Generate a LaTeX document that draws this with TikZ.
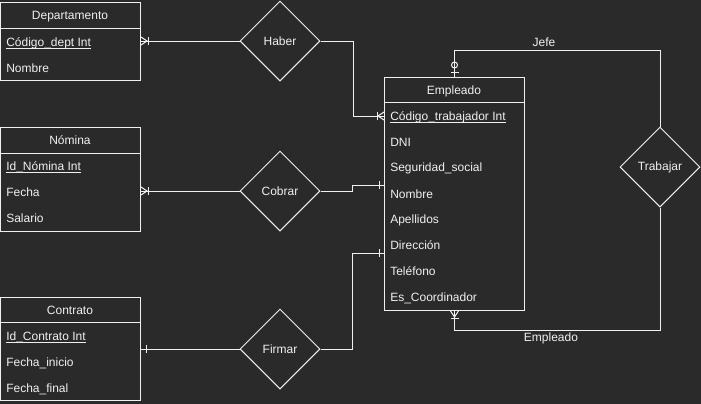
\documentclass[tikz,border=0pt]{standalone}
\usepackage{fontspec}
\setmainfont{Liberation Sans}
\usetikzlibrary{shapes.geometric}
\definecolor{bg}{HTML}{2A2A2A}
\definecolor{fg}{HTML}{F0F0F0}
\newcommand{\myul}[1]{\leavevmode\setbox0\hbox{#1}\rlap{\rule[-1.6pt]{\wd0}{0.55pt}}\box0}
\begin{document}
\begin{tikzpicture}[x=0.75pt,y=-0.75pt,
  every node/.style={font=\fontsize{9pt}{11pt}\selectfont, text=fg},
  line/.style={draw=fg, line width=0.75pt},
  ent/.style={line, rectangle, inner sep=0pt, anchor=north west, minimum width=105pt},
  rel/.style={line, diamond, aspect=1, inner sep=0pt, minimum width=60pt, minimum height=60pt},
  attr/.style={anchor=west, inner sep=0pt, text height=7.2pt, text depth=1.0pt},
  hdr/.style={anchor=center, inner sep=0pt, text height=7.2pt, text depth=1.0pt},
  lbl/.style={inner sep=0pt, text height=7.2pt, text depth=1.0pt},
  crowmany/.pic={\draw[line] (0,-4) -- (6,0) -- (0,4); \draw[line] (7,-4) -- (7,4);},
  crowone/.pic={\draw[line] (5,-4) -- (5,4);},
  crowzeroone/.pic={\draw[line] (5,-4) -- (5,4); \draw[line] (12,0) circle[radius=2.25pt];},
]
\fill[bg] (0,0) rectangle (701,404);
\useasboundingbox (0,0) rectangle (701,404);

% Departamento
\node[ent, minimum height=58.5pt] (dep) at (0,2) {};
\draw[line] (0,28) -- (140,28);
\node[hdr] (depT) at (70,15) {Departamento};
\node[attr] (depcod) at (6,42) {\myul{Código\_dept Int}};
\node[attr] (depnom) at (6,68) {Nombre};

% Nomina
\node[ent, minimum height=78pt] (nom) at (0,127) {};
\draw[line] (0,153) -- (140,153);
\node[hdr] (nomT) at (70,140) {Nómina};
\node[attr] (nomid) at (6,166) {\myul{Id\_Nómina Int}};
\node[attr] (nomfec) at (6,192) {Fecha};
\node[attr] (nomsal) at (6,218) {Salario};

% Contrato
\node[ent, minimum height=77.25pt] (con) at (0,297) {};
\draw[line] (0,322) -- (140,322);
\node[hdr] (conT) at (70,310) {Contrato};
\node[attr] (conid) at (6,336) {\myul{Id\_Contrato Int}};
\node[attr] (conini) at (6,362) {Fecha\_inicio};
\node[attr] (confin) at (6,388) {Fecha\_final};

% Empleado
\node[ent, minimum height=174.75pt] (emp) at (384,77) {};
\draw[line] (384,102) -- (524,102);
\node[hdr] (empT) at (454,90) {Empleado};
\node[attr] (empcod) at (390,116) {\myul{Código\_trabajador Int}};
\node[attr] (empdni) at (390,142) {DNI};
\node[attr] (empseg) at (390,167) {Seguridad\_social};
\node[attr] (empnom) at (390,194) {Nombre};
\node[attr] (empape) at (390,219) {Apellidos};
\node[attr] (empdir) at (390,245) {Dirección};
\node[attr] (emptel) at (390,271) {Teléfono};
\node[attr] (empcoo) at (390,297) {Es\_Coordinador};

% Relationships
\node[rel] (haber) at (280,41) {Haber};
\node[rel] (cobrar) at (280,191) {Cobrar};
\node[rel] (firmar) at (280,349) {Firmar};
\node[rel] (trab) at (660,167) {Trabajar};

% Connectors
\draw[line] (dep.east |- haber) -- (haber.west);
\draw[line] (haber.east) -- ++(33,0) |- (emp.west |- empcod);
\draw[line] (nom.east |- cobrar) -- (cobrar.west);
\draw[line] (cobrar.east) -- ++(32,0) |- (emp.west |- 0,185);
\draw[line] (con.east |- firmar) -- (firmar.west);
\draw[line] (firmar.east) -- ++(32,0) |- (emp.west |- 0,253);
\draw[line] (trab.north) |- (emp.north |- 0,50) -- (emp.north);
\draw[line] (trab.south) |- (emp.south |- 0,330) -- (emp.south);

% Markers
\pic at (dep.east |- haber) {crowmany};
\pic[rotate=180] at (emp.west |- empcod) {crowmany};
\pic at (nom.east |- cobrar) {crowmany};
\pic[rotate=180] at (emp.west |- 0,185) {crowone};
\pic at (con.east |- firmar) {crowone};
\pic[rotate=180] at (emp.west |- 0,253) {crowone};
\pic[rotate=90] at (emp.north) {crowzeroone};
\pic[rotate=-90] at (emp.south) {crowmany};

% Labels
\node[lbl] (jefe) at (544,42) {Jefe};
\node[lbl] (emplbl) at (551,337) {Empleado};
\end{tikzpicture}
\end{document}
